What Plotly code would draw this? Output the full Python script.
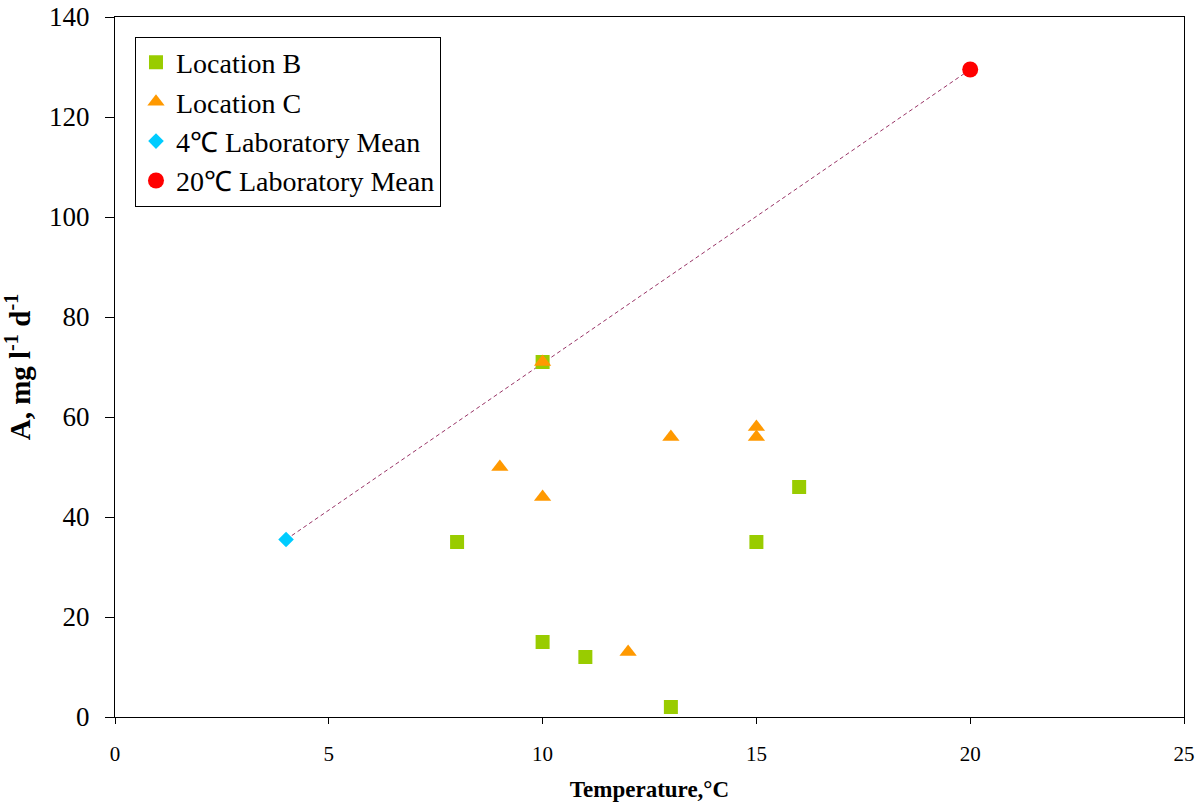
import plotly.graph_objects as go

# Data
b_temp = [8, 10, 11, 13, 15, 16, 10]
b_rate = [35, 15, 12, 2, 35, 46, 71]
c_temp = [9, 10, 12, 13, 15, 15, 10]
c_rate = [50, 44, 13, 56, 58, 56, 71]
lab4_temp = [4]
lab4_rate = [35.5]
lab20_temp = [20]
lab20_rate = [129.5]
x_ticks = [0, 5, 10, 15, 20, 25]
y_ticks = [0, 20, 40, 60, 80, 100, 120, 140]

SERIF = "Liberation Serif"

fig = go.Figure()

# Dashed trend line between the two lab means
fig.add_trace(go.Scatter(
    x=lab4_temp + lab20_temp, y=lab4_rate + lab20_rate,
    mode="lines", line=dict(color="#993366", width=1, dash="4px,3px"),
    showlegend=False, hoverinfo="skip"))

fig.add_trace(go.Scatter(
    x=b_temp, y=b_rate, mode="markers", name="Location B", legendgroup="b",
    marker=dict(symbol="square", size=14, color="#99CC00")))
fig.add_trace(go.Scatter(
    x=c_temp, y=c_rate, mode="markers", name="Location C", legendgroup="c",
    marker=dict(symbol="triangle-up", size=15, color="#FF9900")))
fig.add_trace(go.Scatter(
    x=lab4_temp, y=lab4_rate, mode="markers", name="4℃ Laboratory Mean", legendgroup="l4",
    marker=dict(symbol="diamond", size=12, color="#00CCFF")))
fig.add_trace(go.Scatter(
    x=lab20_temp, y=lab20_rate, mode="markers", name="20℃ Laboratory Mean", legendgroup="l20",
    marker=dict(symbol="circle", size=16, color="#FF0000")))

fig.update_layout(
    width=1202, height=808,
    margin=dict(l=115, r=18, t=17, b=91, autoexpand=False),
    paper_bgcolor="white", plot_bgcolor="white",
    font=dict(family=SERIF, color="black"),
    showlegend=True,
    legend=dict(
        x=0.0187, y=0.972, xanchor="left", yanchor="top",
        bordercolor="black", borderwidth=1, bgcolor="white",
        font=dict(family=SERIF, size=28, color="black"),
        tracegroupgap=0, traceorder="grouped",
    ),
    xaxis=dict(
        range=[0, 25], tickvals=x_ticks, ticks="outside", ticklen=6,
        tickcolor="black", showgrid=False, zeroline=False, automargin=False,
        showline=True, linecolor="black", linewidth=1, mirror=True,
        tickfont=dict(family=SERIF, size=21), ticklabelstandoff=12,
        title=dict(text="<b>Temperature,°C</b>", font=dict(family=SERIF, size=23), standoff=15),
    ),
    yaxis=dict(
        range=[0, 140], tickvals=y_ticks, ticks="outside", ticklen=9,
        tickcolor="black", showgrid=False, zeroline=False, automargin=False,
        showline=True, linecolor="black", linewidth=1, mirror=True,
        tickfont=dict(family=SERIF, size=27), ticklabelstandoff=10,
        title=dict(text="<b>A, mg l<sup>-1</sup> d<sup>-1</sup></b>", font=dict(family=SERIF, size=29), standoff=17),
    ),
)

fig.write_html("out.html")
